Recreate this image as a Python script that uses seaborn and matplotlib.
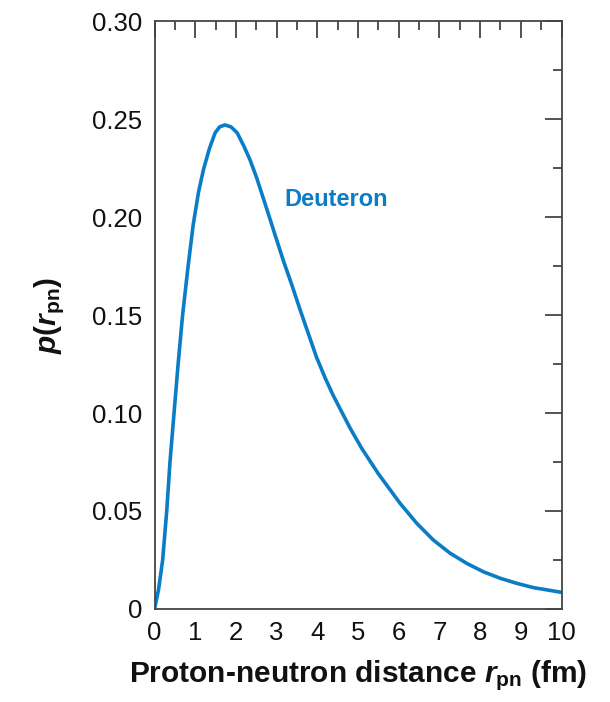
import matplotlib
matplotlib.use("Agg")
import matplotlib.pyplot as plt
import seaborn as sns
import pandas as pd
from matplotlib.ticker import MultipleLocator

# distance r_pn (fm) and probability p(r_pn)
r_pn = [0.0, 0.1, 0.2, 0.3, 0.38, 0.48, 0.58, 0.69, 0.82, 0.95, 1.08, 1.2,
        1.35, 1.49, 1.6, 1.73, 1.88, 2.03, 2.2, 2.35, 2.51, 2.76, 2.96, 3.17,
        3.38, 3.58, 3.78, 3.98, 4.19, 4.39, 4.80, 5.09, 5.5, 6.03, 6.44, 6.85,
        7.26, 7.67, 8.08, 8.49, 8.90, 9.31, 10.0]
p_r = [0.0, 0.010, 0.025, 0.050, 0.075, 0.100, 0.125, 0.150, 0.174, 0.196,
       0.2125, 0.224, 0.235, 0.243, 0.246, 0.247, 0.246, 0.243, 0.236, 0.229,
       0.220, 0.204, 0.191, 0.1775, 0.165, 0.1525, 0.1405, 0.1285, 0.118,
       0.109, 0.0925, 0.082, 0.069, 0.054, 0.0438, 0.0352, 0.0285, 0.0233,
       0.019, 0.0157, 0.0131, 0.0109, 0.0085]
x_ticks = list(range(0, 11))
y_ticks = [0, 0.05, 0.10, 0.15, 0.20, 0.25, 0.30]
y_tick_labels = ["0", "0.05", "0.10", "0.15", "0.20", "0.25", "0.30"]
series_label = "Deuteron"

sns.set_theme(style="white")
plt.rcParams["font.family"] = ["Liberation Sans", "DejaVu Sans"]
plt.rcParams["mathtext.fontset"] = "custom"
plt.rcParams["mathtext.it"] = "Liberation Sans:italic:bold"
plt.rcParams["mathtext.bf"] = "Liberation Sans:bold"
plt.rcParams["mathtext.rm"] = "Liberation Sans:bold"

BLUE = "#0a7dc6"
AX = "#444444"

df = pd.DataFrame({"r": r_pn, "p": p_r})

fig = plt.figure(figsize=(6.1, 7.02), dpi=100)
ax = fig.add_axes([0.2533, 0.1325, 0.9205 - 0.2533, 0.970 - 0.1325])
sns.lineplot(data=df, x="r", y="p", ax=ax, color=BLUE, linewidth=2.6)
for ln in ax.lines:
    ln.set_solid_joinstyle("round")
    ln.set_solid_capstyle("round")

ax.set_xlim(0, 10)
ax.set_ylim(0, 0.30)
ax.set_xticks(x_ticks)
ax.set_xticklabels([str(v) for v in x_ticks])
ax.set_yticks(y_ticks)
ax.set_yticklabels(y_tick_labels)
ax.xaxis.set_minor_locator(MultipleLocator(0.5))
ax.yaxis.set_minor_locator(MultipleLocator(0.025))

for s in ax.spines.values():
    s.set_color(AX)
    s.set_linewidth(1.3)
ax.tick_params(which="both", direction="in", top=True, right=True,
               color=AX, width=1.3)
ax.tick_params(which="major", length=12, labelsize=18.5, labelcolor="#111111")
ax.tick_params(which="minor", length=6.5)
ax.tick_params(axis="x", which="major", pad=9)
ax.tick_params(axis="y", which="major", pad=9)

ax.set_xlabel(r"Proton-neutron distance $r_{\mathbf{pn}}$ (fm)",
              fontsize=21.5, fontweight="bold", color="#111111", labelpad=9)
ax.set_ylabel(r"$p(r_{\mathbf{pn}})$", fontsize=21.5, fontweight="bold",
              color="#111111", labelpad=18)

ax.text(3.2, 0.209, series_label, color=BLUE, fontsize=17, fontweight="bold",
        ha="left", va="center")

fig.savefig("out.png", dpi=100)
